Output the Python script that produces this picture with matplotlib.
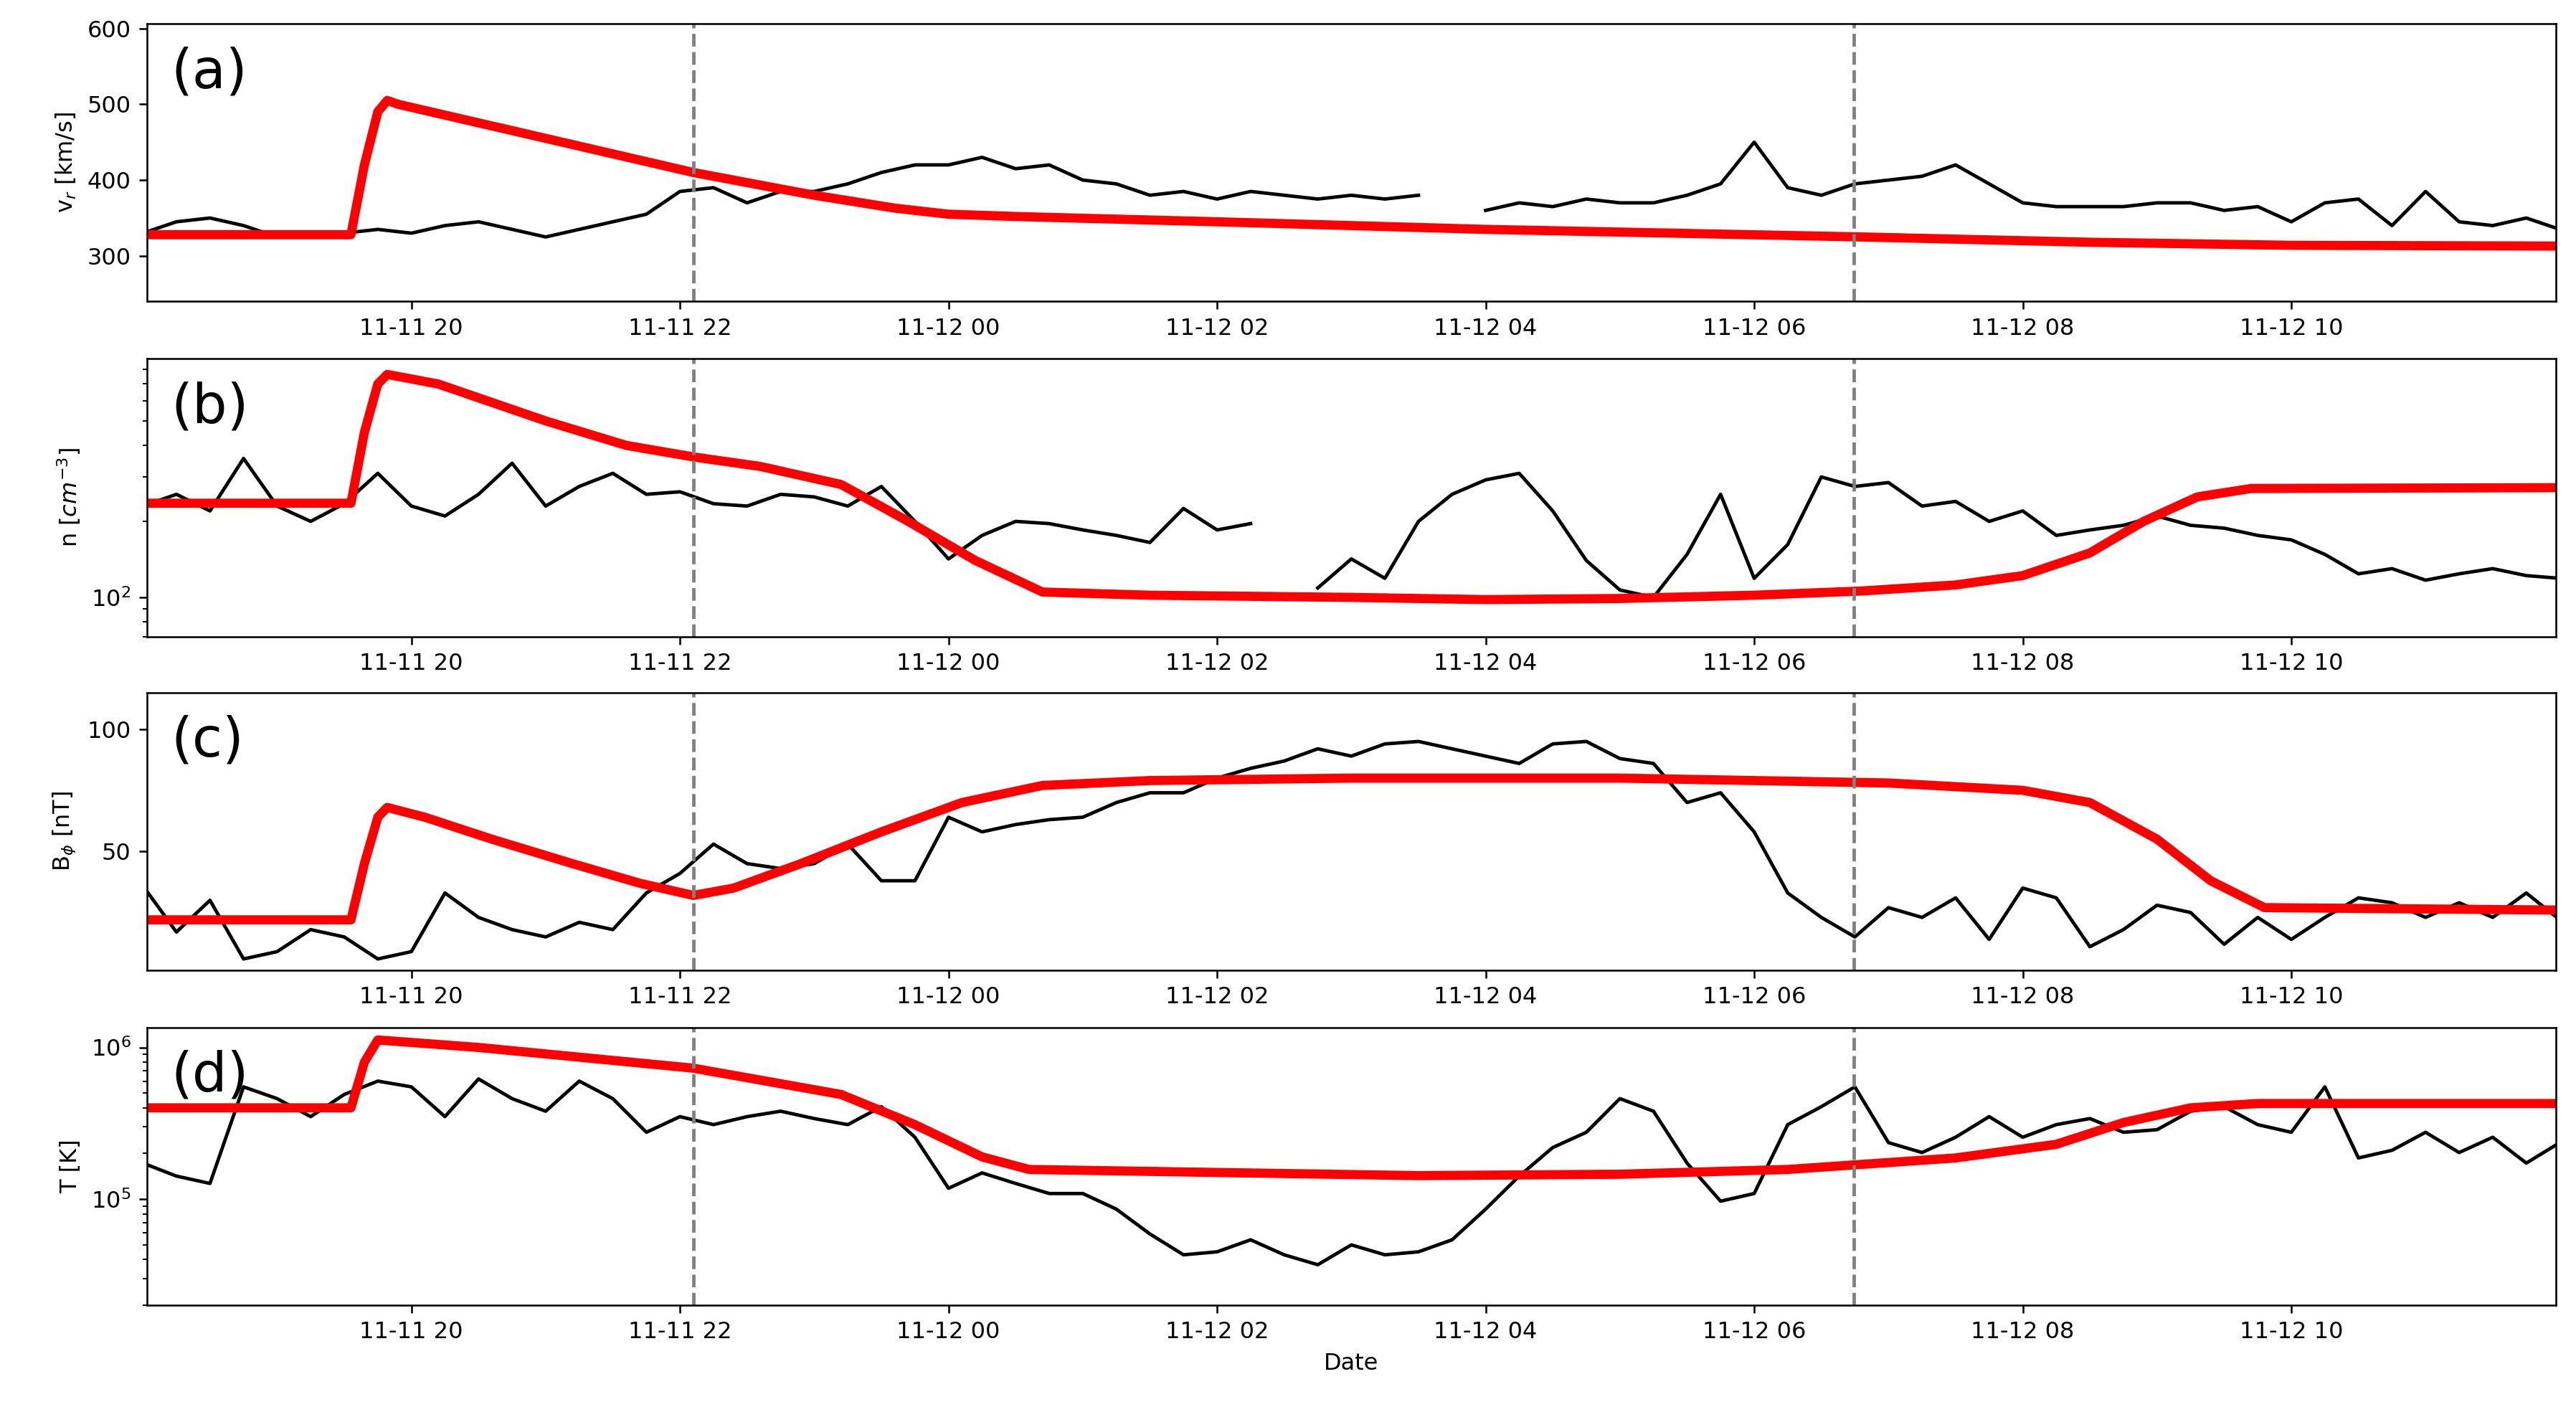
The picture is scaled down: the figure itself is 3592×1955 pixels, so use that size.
import numpy as np
import pandas as pd
import matplotlib
matplotlib.use("Agg")
import matplotlib.pyplot as plt
import matplotlib.dates as mdates
from matplotlib.ticker import NullFormatter

# hours after 2023-11-11 18:00
t0 = pd.Timestamp("2023-11-11 18:00")
obs_hours = [i * 0.25 for i in range(73)]

vr_obs = [330, 345, 350, 340, 325, 325, 330, 335, 330, 340, 345, 335, 325, 335, 345, 355, 385, 390, 370,
          385, 385, 395, 410, 420, 420, 430, 415, 420, 400, 395, 380, 385, 375, 385, 380, 375, 380, 375,
          380, np.nan, 360, 370, 365, 375, 370, 370, 380, 395, 450, 390, 380, 395, 400, 405, 420, 395,
          370, 365, 365, 365, 370, 370, 360, 365, 345, 370, 375, 340, 385, 345, 340, 350, 335]
n_obs = [230, 256, 220, 355, 230, 200, 235, 310, 230, 210, 256, 340, 230, 275, 310, 256, 262, 235, 230,
         256, 250, 230, 275, 200, 142, 176, 200, 196, 185, 176, 165, 225, 185, 196, np.nan, 109, 142,
         119, 200, 256, 292, 310, 220, 140, 107, 100, 148, 256, 119, 162, 300, 275, 285, 230, 240, 200,
         220, 176, 185, 193, 210, 193, 188, 176, 169, 148, 124, 130, 117, 124, 130, 122, 119]
b_obs = [36, 17, 30, 6, 9, 18, 15, 6, 9, 33, 23, 18, 15, 21, 18, 33, 41, 53, 45, 43, 45, 53, 38, 38,
         64, 58, 61, 63, 64, 70, 74, 74, 80, 84, 87, 92, 89, 94, 95, 92, 89, 86, 94, 95, 88, 86, 70, 74,
         58, 33, 23, 15, 27, 23, 31, 14, 35, 31, 11, 18, 28, 25, 12, 23, 14, 23, 31, 29, 23, 29, 23, 33, 22]
t_obs = [1.73e5, 1.42e5, 1.27e5, 5.5e5, 4.6e5, 3.5e5, 4.9e5, 6.0e5, 5.5e5, 3.5e5, 6.2e5, 4.6e5, 3.8e5,
         6.0e5, 4.6e5, 2.76e5, 3.5e5, 3.1e5, 3.5e5, 3.8e5, 3.4e5, 3.1e5, 4.07e5, 2.56e5, 1.18e5, 1.49e5,
         1.27e5, 1.09e5, 1.09e5, 8.6e4, 5.9e4, 4.3e4, 4.5e4, 5.4e4, 4.3e4, 3.7e4, 5.0e4, 4.3e4, 4.5e4,
         5.4e4, 8.6e4, 1.42e5, 2.19e5, 2.76e5, 4.6e5, 3.8e5, 1.73e5, 9.7e4, 1.09e5, 3.1e5, 4.07e5, 5.5e5,
         2.36e5, 2.03e5, 2.56e5, 3.5e5, 2.56e5, 3.1e5, 3.4e5, 2.76e5, 2.87e5, 3.8e5, 4.07e5, 3.1e5,
         2.76e5, 5.5e5, 1.87e5, 2.1e5, 2.76e5, 2.03e5, 2.56e5, 1.73e5, 2.36e5]

# model curves (knots)
vr_mod_h = [0, 1.55, 1.65, 1.75, 1.82, 1.9, 3.0, 4.1, 5.0, 5.6, 6.0, 6.5, 8.0, 10.0, 12.8, 14.5, 16.0, 18.0]
vr_mod = [328, 328, 420, 490, 505, 500, 455, 410, 380, 363, 355, 352, 345, 335, 325, 318, 314, 313]
n_mod_h = [0, 1.55, 1.65, 1.75, 1.82, 2.2, 3.0, 3.6, 4.1, 4.6, 5.2, 5.7, 6.2, 6.7, 7.5, 9.0, 10.0, 11.0,
           12.0, 12.8, 13.5, 14.0, 14.5, 14.9, 15.3, 15.7, 18.0]
n_mod = [236, 236, 450, 700, 764, 700, 500, 400, 360, 330, 280, 200, 140, 105, 102, 100, 98, 99, 102,
         106, 112, 122, 150, 200, 250, 270, 272]
b_mod_h = [0, 1.55, 1.65, 1.75, 1.82, 2.1, 2.6, 3.2, 3.7, 4.1, 4.4, 4.9, 5.5, 6.1, 6.7, 7.5, 9.0, 11.0,
           12.0, 13.0, 14.0, 14.5, 15.0, 15.4, 15.8, 18.0]
b_mod = [22, 22, 45, 64, 68, 64, 55, 45, 37, 32, 35, 45, 58, 70, 77, 79, 80, 80, 79, 78, 75, 70, 55,
         38, 27, 26]
t_mod_h = [0, 1.55, 1.65, 1.75, 2.5, 4.1, 5.2, 5.75, 6.25, 6.6, 8.0, 9.5, 11.0, 12.25, 13.5, 14.25,
           14.75, 15.25, 15.75, 18.0]
t_mod = [4.0e5, 4.0e5, 8.0e5, 1.12e6, 1.0e6, 7.3e5, 4.9e5, 3.1e5, 1.9e5, 1.57e5, 1.5e5, 1.43e5,
         1.46e5, 1.57e5, 1.87e5, 2.3e5, 3.2e5, 4.0e5, 4.27e5, 4.27e5]

boundaries_h = [4.1, 12.74]


def to_time(hours):
    return t0 + pd.to_timedelta(np.array(hours), unit="h")


fig = plt.figure(figsize=(15.62, 8.5), dpi=230)
bottoms = [0.785, 0.546, 0.308, 0.069]
axes = [fig.add_axes([0.057, b, 0.935, 0.198]) for b in bottoms]

panels = [
    (vr_obs, vr_mod_h, vr_mod, "v$_r$ [km/s]", "(a)", False, (240, 606)),
    (n_obs, n_mod_h, n_mod, "n [$cm^{-3}$]", "(b)", True, (70, 880)),
    (b_obs, b_mod_h, b_mod, "B$_\\phi$ [nT]", "(c)", False, (1.4, 115)),
    (t_obs, t_mod_h, t_mod, "T [K]", "(d)", True, (2.0e4, 1.35e6)),
]

for ax, (obs, mh, mod, ylab, tag, logy, ylim) in zip(axes, panels):
    ax.plot(to_time(obs_hours), obs, color="black", lw=1.5)
    ax.plot(to_time(mh), mod, color="red", lw=4)
    for bh in boundaries_h:
        ax.axvline(to_time([bh])[0], color="gray", ls="--", lw=1.5)
    if logy:
        ax.set_yscale("log")
        ax.yaxis.set_minor_formatter(NullFormatter())
    ax.set_ylim(*ylim)
    ax.set_xlim(to_time([0.03])[0], to_time([17.97])[0])
    ax.set_ylabel(ylab)
    ax.text(0.01, 0.92, tag, transform=ax.transAxes, fontsize=24, va="top")
    ax.xaxis.set_major_locator(mdates.HourLocator(byhour=range(0, 24, 2)))
    ax.xaxis.set_major_formatter(mdates.DateFormatter("%m-%d %H"))

axes[0].set_yticks([300, 400, 500, 600])
axes[2].set_yticks([50, 100])
axes[3].set_xlabel("Date")

fig.savefig("out.png", dpi=230)
